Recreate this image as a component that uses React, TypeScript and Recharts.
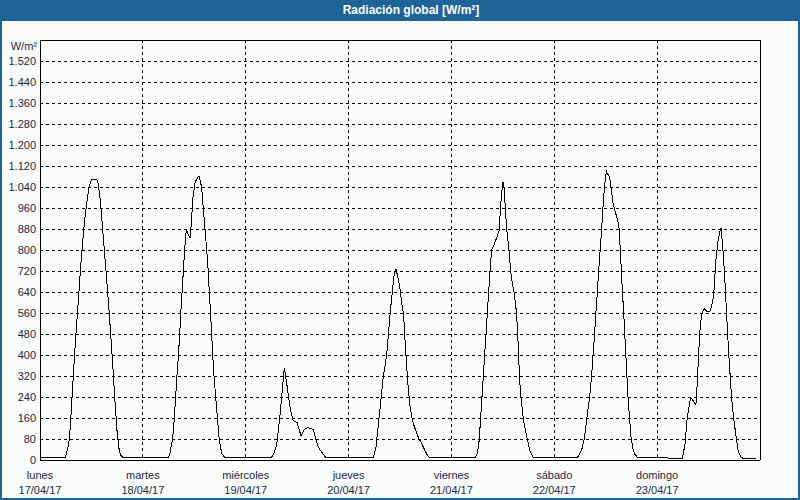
import { LineChart, Line, XAxis, YAxis, CartesianGrid, ReferenceLine } from "recharts";

const FRAME = "#1e6498";
const TEXT = "#1a2747";
const FONT = "'Liberation Sans', Arial, sans-serif";

const DAY_NAMES = ["lunes", "martes", "miércoles", "jueves", "viernes", "sábado", "domingo"];
const DAY_DATES = ["17/04/17", "18/04/17", "19/04/17", "20/04/17", "21/04/17", "22/04/17", "23/04/17"];

const Y_TICKS = [0, 80, 160, 240, 320, 400, 480, 560, 640, 720, 800, 880, 960, 1040, 1120, 1200, 1280, 1360, 1440, 1520];
const X_TICKS = [0, 24, 48, 72, 96, 120, 144];

// [hour of day, W/m²]
const LUNES: [number, number][] = [
  [0, 8], [5.8, 8], [6.2, 25], [6.6, 55], [6.85, 80], [7.2, 160], [7.5, 245], [8.0, 385],
  [8.5, 505], [9.0, 620], [9.5, 740], [10.0, 840], [10.5, 925], [11.0, 990], [11.5, 1045],
  [12.0, 1068], [13.2, 1068], [13.5, 1060], [14.0, 1000], [14.5, 905], [15.0, 800], [15.5, 700],
  [16.0, 595], [16.5, 478], [17.0, 357], [17.5, 220], [18.0, 105], [18.5, 35], [18.85, 18], [19.4, 8],
];
const MARTES: [number, number][] = [
  [0, 8], [5.9, 8], [6.3, 25], [6.95, 80], [7.35, 160], [7.65, 240], [7.95, 320], [8.3, 400],
  [8.6, 480], [8.85, 560], [9.15, 640], [9.45, 720], [9.75, 800], [10.05, 865], [10.25, 873],
  [11.0, 845], [11.2, 880], [11.7, 1000], [12.2, 1060], [13.1, 1083], [13.7, 1040], [14.1, 960],
  [14.5, 880], [14.9, 800], [15.25, 720], [15.5, 640], [15.8, 560], [16.05, 480], [16.3, 400],
  [16.6, 320], [17.0, 240], [17.4, 160], [17.8, 80], [18.4, 25], [19.2, 8],
];
const MIERCOLES: [number, number][] = [
  [0, 8], [5.9, 8], [6.6, 25], [7.2, 55], [8.0, 170], [8.55, 270], [9.0, 352], [9.5, 300],
  [10.3, 205], [10.95, 155], [11.3, 148], [12.0, 142], [12.9, 92], [13.3, 105], [13.8, 118],
  [14.5, 123], [15.2, 120], [15.8, 115], [16.4, 75], [17.0, 48], [17.7, 30], [18.8, 8],
];
const JUEVES: [number, number][] = [
  [0, 8], [5.8, 8], [6.4, 50], [7.3, 190], [8.1, 318], [8.9, 400], [9.3, 480], [9.7, 560],
  [10.2, 640], [10.7, 715], [11.05, 728], [11.6, 690], [12.0, 650], [12.4, 600], [12.85, 550],
  [13.3, 420], [13.8, 300], [14.3, 210], [14.9, 150], [15.6, 115], [16.3, 85], [17.0, 65],
  [17.7, 40], [18.5, 15], [19.0, 8],
];
const VIERNES: [number, number][] = [
  [0, 8], [5.5, 8], [6.05, 25], [6.5, 78], [6.8, 158], [7.13, 240], [7.44, 318], [7.75, 400],
  [8.07, 480], [8.38, 560], [8.69, 640], [9.0, 720], [9.39, 800], [9.93, 820], [10.7, 852],
  [11.18, 878], [11.41, 955], [11.72, 1018], [12.03, 1059], [12.27, 1040], [12.58, 960],
  [12.89, 880], [13.43, 800], [13.82, 720], [14.2, 675], [14.6, 640], [15.2, 560], [15.45, 480],
  [15.7, 400], [15.85, 320], [16.2, 240], [16.75, 160], [17.2, 118], [17.7, 80], [18.3, 35], [19.1, 8],
];
const SABADO: [number, number][] = [
  [0, 8], [5.3, 8], [6.0, 25], [6.5, 45], [7.0, 80], [7.6, 160], [8.25, 240], [8.7, 320],
  [9.05, 400], [9.4, 480], [9.7, 560], [10.05, 640], [10.35, 720], [10.7, 800], [11.05, 880],
  [11.35, 960], [11.7, 1040], [12.15, 1100], [12.4, 1090], [12.9, 1080], [13.75, 975], [14.9, 905],
  [15.15, 880], [15.4, 800], [15.65, 720], [15.9, 640], [16.2, 560], [16.45, 480], [16.7, 400],
  [16.95, 320], [17.2, 240], [17.55, 160], [17.95, 80], [18.4, 40], [18.8, 22], [19.5, 8],
];
const DOMINGO: [number, number][] = [
  [0, 8], [5.9, 7], [6.5, 60], [7.0, 160], [7.8, 238], [8.3, 228], [9.05, 210], [9.35, 290],
  [9.8, 440], [10.1, 520], [10.5, 560], [10.95, 577], [11.7, 565], [12.3, 565], [12.9, 598],
  [13.2, 630], [13.7, 760], [14.25, 840], [14.65, 872], [14.9, 884], [15.3, 815], [15.75, 700],
  [16.2, 560], [16.65, 420], [17.05, 318], [17.35, 242], [17.8, 165], [18.4, 92], [18.95, 30],
  [19.6, 10], [20.0, 7], [23.0, 7],
];

const WEEK = [LUNES, MARTES, MIERCOLES, JUEVES, VIERNES, SABADO, DOMINGO];

const data = WEEK.flatMap((day, d) => day.map(([h, v]) => ({ t: d * 24 + h, v })));

function fmtThousands(v: number): string {
  if (v < 1000) return String(v);
  return `${Math.floor(v / 1000)}.${String(v % 1000).padStart(3, "0")}`;
}

function DayTick(props: any) {
  const { x, y, payload } = props;
  const i = Math.round(payload.value / 24);
  return (
    <text x={x} y={y} textAnchor="middle" fontSize={11} fontFamily={FONT} fill={TEXT}>
      <tspan x={x} dy={19}>{DAY_NAMES[i]}</tspan>
      <tspan x={x} dy={15}>{DAY_DATES[i]}</tspan>
    </text>
  );
}

export default function App() {
  return (
    <div
      style={{
        position: "absolute",
        left: 0,
        top: 0,
        width: 800,
        height: 500,
        background: "#fbfdfd",
        boxShadow: `inset 2px 0 0 ${FRAME}, inset -2px 0 0 ${FRAME}, inset 0 -2px 0 ${FRAME}`,
        fontFamily: FONT,
        overflow: "hidden",
      }}
    >
      <style>{`
        .recharts-cartesian-grid line,
        .recharts-cartesian-axis-line,
        .recharts-reference-line line,
        .recharts-line-curve { shape-rendering: crispEdges; }
      `}</style>
      <div
        style={{
          position: "absolute",
          left: 0,
          top: 0,
          width: 800,
          height: 21,
          background: FRAME,
        }}
      />
      <div
        style={{
          position: "absolute",
          left: 0,
          top: 0,
          width: 822,
          height: 21,
          lineHeight: "21px",
          textAlign: "center",
          color: "#ffffff",
          fontWeight: "bold",
          fontSize: 12,
        }}
      >
        Radiación global [W/m²]
      </div>
      <div
        style={{
          position: "absolute",
          left: 0,
          top: 40,
          width: 37,
          textAlign: "right",
          fontSize: 11,
          lineHeight: "13px",
          color: TEXT,
        }}
      >
        W/m²
      </div>
      <div style={{ position: "absolute", left: 0, top: 0 }}>
        <LineChart width={800} height={500} data={data} margin={{ top: 40, right: 40, bottom: 0, left: 0 }}>
          <CartesianGrid stroke="#000" strokeDasharray="3 3" />
          <XAxis
            dataKey="t"
            type="number"
            domain={[0, 168]}
            ticks={X_TICKS}
            interval={0}
            height={40}
            tickSize={0}
            tickMargin={0}
            axisLine={{ stroke: "#000" }}
            tickLine={false}
            tick={<DayTick />}
          />
          <YAxis
            type="number"
            domain={[0, 1600]}
            ticks={Y_TICKS}
            interval={0}
            width={40}
            tickSize={0}
            tickMargin={4}
            axisLine={{ stroke: "#000" }}
            tickLine={false}
            tickFormatter={fmtThousands}
            tick={{ fontSize: 11, fill: TEXT, fontFamily: FONT }}
          />
          <ReferenceLine y={1600} stroke="#000" />
          <ReferenceLine x={168} stroke="#000" />
          <Line
            type="linear"
            dataKey="v"
            stroke="#000"
            strokeWidth={1}
            dot={false}
            isAnimationActive={false}
          />
        </LineChart>
      </div>
    </div>
  );
}
